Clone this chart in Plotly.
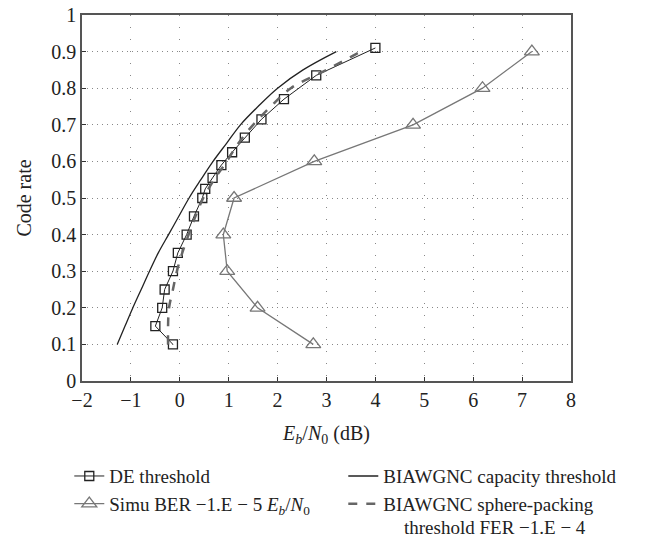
import plotly.graph_objects as go

# DE threshold (squares)
de_x = [-0.14, -0.5, -0.36, -0.31, -0.14, -0.04, 0.14, 0.29, 0.46, 0.52, 0.67, 0.85, 1.07, 1.33, 1.67, 2.13, 2.79, 4.0]
de_y = [0.1, 0.15, 0.2, 0.25, 0.3, 0.35, 0.4, 0.45, 0.5, 0.525, 0.555, 0.59, 0.625, 0.665, 0.715, 0.77, 0.835, 0.91]

# Simulated BER 1e-5 (triangles)
simu_x = [2.73, 1.59, 0.97, 0.89, 1.11, 2.75, 4.77, 6.19, 7.2]
simu_y = [0.1, 0.2, 0.3, 0.4, 0.5, 0.6, 0.7, 0.8, 0.9]

# BIAWGNC capacity threshold
cap_x = [-1.28, -1.12, -0.96, -0.79, -0.62, -0.44, -0.23, -0.02, 0.19, 0.43, 0.68, 0.96, 1.24, 1.6, 2.0, 2.52, 3.2]
cap_y = [0.1, 0.15, 0.2, 0.25, 0.3, 0.35, 0.4, 0.45, 0.5, 0.55, 0.6, 0.65, 0.7, 0.75, 0.8, 0.85, 0.9]

# BIAWGNC sphere-packing threshold FER 1e-4
sp_x = [-0.24, -0.24, -0.22, -0.14, -0.06, 0.05, 0.18, 0.32, 0.48, 0.7, 0.96, 1.2, 1.5, 1.86, 2.27, 3.0, 3.7]
sp_y = [0.1, 0.15, 0.2, 0.25, 0.3, 0.35, 0.4, 0.45, 0.5, 0.55, 0.6, 0.65, 0.7, 0.75, 0.8, 0.85, 0.9]

font = "Liberation Serif"
ink = "#222"

fig = go.Figure()
fig.add_trace(go.Scatter(x=de_x, y=de_y, name="DE threshold", mode="lines+markers",
                         line=dict(color=ink, width=1),
                         marker=dict(symbol="square-open", size=9, color=ink, line=dict(width=1.3))))
fig.add_trace(go.Scatter(x=cap_x, y=cap_y, name="BIAWGNC capacity threshold", mode="lines",
                         line=dict(color=ink, width=1.3, shape="spline")))
fig.add_trace(go.Scatter(x=simu_x, y=simu_y,
                         name="Simu BER \u22121.E \u2212 5 <i>E<sub>b</sub></i>/<i>N</i><sub>0</sub>",
                         mode="lines+markers",
                         line=dict(color="#777", width=1.3),
                         marker=dict(symbol="triangle-up-open", size=13, color="#777", line=dict(width=1.3))))
fig.add_trace(go.Scatter(x=sp_x, y=sp_y, name="BIAWGNC sphere-packing",
                         mode="lines", line=dict(color="#666", width=2.5, dash="dash", shape="spline")))

axis_common = dict(showline=True, linecolor="#555", linewidth=1.5, mirror=True,
                   ticks="inside", ticklen=4, tickcolor="#333", zeroline=False,
                   gridcolor="#888", gridwidth=1, automargin=False,
                   ticklabeloverflow="allow",
                   tickfont=dict(family=font, size=20, color=ink))

fig.update_xaxes(range=[-2, 8], dtick=1, griddash="1px,11px",
                 title=dict(text="<i>E<sub>b</sub></i>/<i>N</i><sub>0</sub> (dB)",
                            font=dict(family=font, size=20, color=ink), standoff=16),
                 **axis_common)
fig.update_yaxes(range=[0, 1], dtick=0.1, griddash="1px,4px",
                 title=dict(text="Code rate", font=dict(family=font, size=20, color=ink), standoff=14),
                 **axis_common)

# second line of the sphere-packing legend entry
fig.add_annotation(text="threshold FER \u22121.E \u2212 4", xref="paper", yref="paper",
                   x=0.655, y=-0.40, xanchor="left", yanchor="middle", showarrow=False,
                   font=dict(family=font, size=19, color=ink))

fig.update_layout(
    width=658, height=539,
    margin=dict(l=74, r=95, t=7, b=166, autoexpand=False),
    plot_bgcolor="white", paper_bgcolor="white",
    font=dict(family=font, size=20, color=ink),
    legend=dict(orientation="h", x=-0.026, y=-0.208, xanchor="left", yanchor="top",
                entrywidth=229, entrywidthmode="pixels", traceorder="normal",
                font=dict(family=font, size=19, color=ink), tracegroupgap=0),
)

fig.write_html("out.html")
